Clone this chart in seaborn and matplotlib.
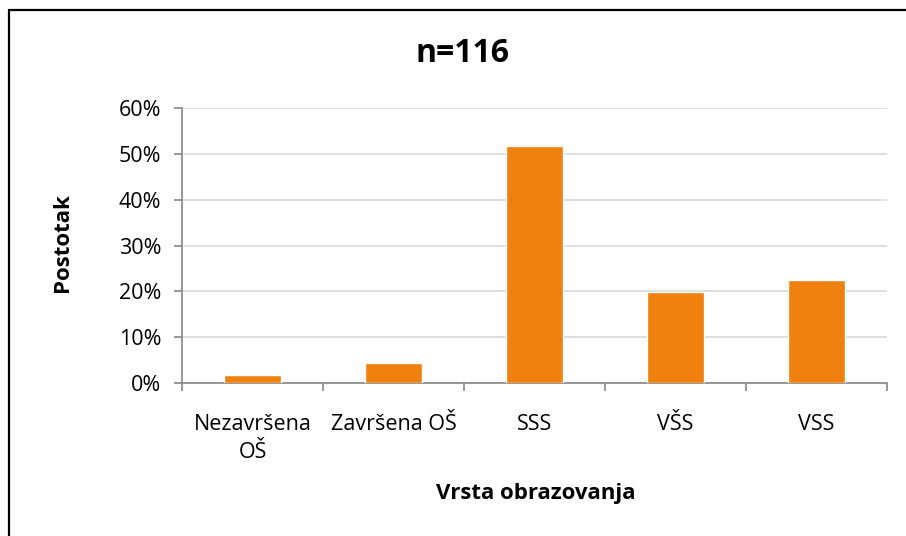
import matplotlib
matplotlib.use("Agg")
import pandas as pd
import seaborn as sns
import matplotlib.pyplot as plt
from matplotlib.lines import Line2D
from matplotlib.ticker import PercentFormatter

# data: n=116 respondents by education level
categories = ["Nezavršena\nOŠ", "Završena OŠ", "SSS", "VŠS", "VSS"]
counts = [2, 5, 60, 23, 26]
n_total = 116
percentages = [c / n_total * 100 for c in counts]

df = pd.DataFrame({"Vrsta": categories, "Postotak": percentages})

sns.set_style("white")
plt.rcParams["font.family"] = ["Open Sans", "DejaVu Sans"]
plt.rcParams["text.color"] = "black"
plt.rcParams["xtick.color"] = "black"
plt.rcParams["ytick.color"] = "black"

fig = plt.figure(figsize=(9.06, 5.36), dpi=100)
ax = fig.add_axes([0.2009, 0.2854, 0.7781, 0.5131])

sns.barplot(data=df, x="Vrsta", y="Postotak", color="#F0810F", width=0.4,
            saturation=1, ax=ax, zorder=3)

ax.set_ylim(0, 60)
ax.set_xlim(-0.5, len(categories) - 0.5)
ax.set_yticks(range(0, 61, 10))
ax.yaxis.set_major_formatter(PercentFormatter(decimals=0))
ax.grid(axis="y", color="#D9D9D9", linewidth=1.2, zorder=0)

# excel style ticks between categories
ax.set_xticks([i - 0.5 for i in range(len(categories) + 1)], minor=True)
ax.tick_params(axis="x", which="major", bottom=False, labelsize=15.5, pad=19,
               labelcolor="black")
ax.tick_params(axis="x", which="minor", bottom=True, length=6, width=1.2,
               color="#868686", direction="out")
ax.tick_params(axis="y", left=True, length=6, width=1.2, color="#868686",
               direction="out", labelsize=15.5, pad=9, labelcolor="black")
ax.set_xticklabels(categories, linespacing=1.45)

for side in ["top", "right"]:
    ax.spines[side].set_visible(False)
for side in ["left", "bottom"]:
    ax.spines[side].set_color("#868686")
    ax.spines[side].set_linewidth(1.2)

ax.set_xlabel("")
ax.set_ylabel("")
fig.text(536 / 906, 1 - 493 / 536, "Vrsta obrazovanja", ha="center", va="center",
         fontsize=16, fontweight="bold")
fig.text(62 / 906, 1 - 243 / 536, "Postotak", ha="center", va="center",
         rotation=90, fontsize=16, fontweight="bold")
fig.text(463 / 906, 1 - 53 / 536, "n=116", ha="center", va="center",
         fontsize=23, fontweight="bold")

# chart border, only left and top visible in the crop
fig.add_artist(Line2D([9 / 906, 9 / 906], [0, 1 - 10 / 536], color="black", linewidth=1.6))
fig.add_artist(Line2D([9 / 906, 1], [1 - 10 / 536, 1 - 10 / 536], color="black", linewidth=1.6))

fig.savefig("out.png", dpi=100, facecolor="white")
